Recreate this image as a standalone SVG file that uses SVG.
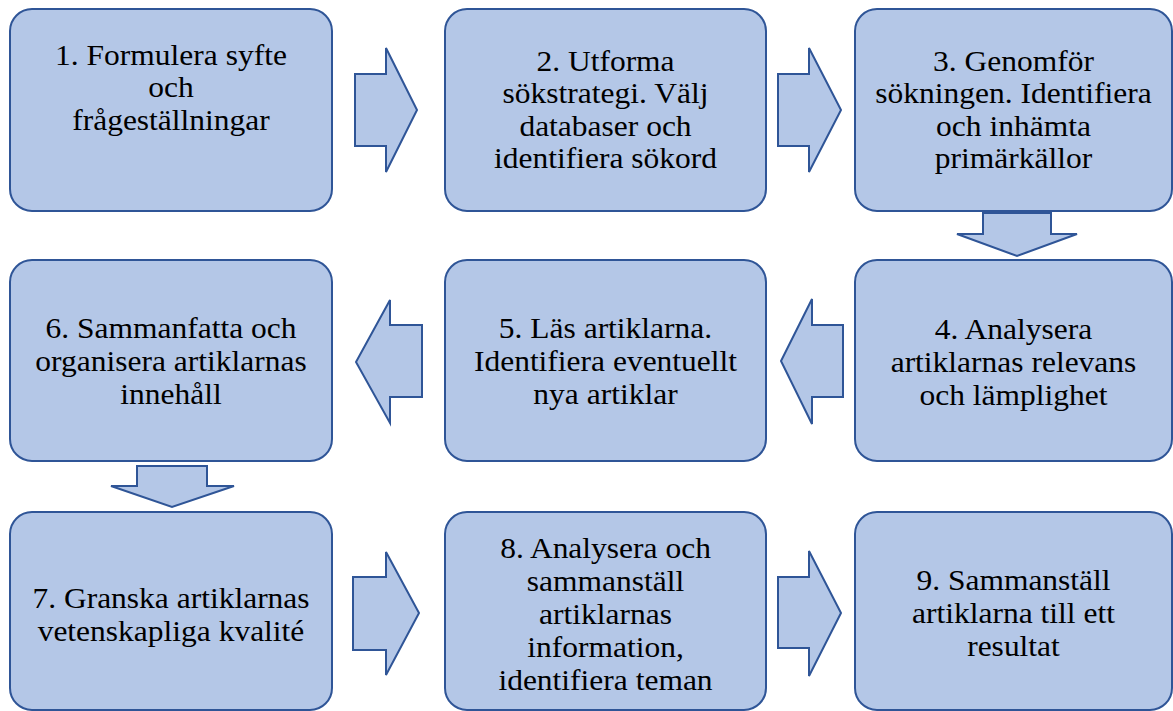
<svg xmlns="http://www.w3.org/2000/svg" width="1173" height="711" viewBox="0 0 1173 711">
<style>
.box{fill:#b4c7e7;stroke:#2f5597;stroke-width:2}
.arr{fill:#b4c7e7;stroke:#2f5597;stroke-width:2;stroke-linejoin:miter}
.t{font-family:'Liberation Serif','Times New Roman',serif;font-size:30px;fill:#000;text-anchor:middle}
</style>
<rect width="1173" height="711" fill="#fff"/>
<g id="connectors">
<polygon class="arr" points="355,74 386,74 386,48 417,110 386,172 386,146 355,146"/>
<polygon class="arr" points="778,74 809,74 809,48 841,110 809,172 809,146 778,146"/>
<polygon class="arr" points="983,213 1051,213 1051,234 1077,234 1017,256 957,234 983,234"/>
<polygon class="arr" points="843,325 812,325 812,299 781,361 812,424 812,397 843,397"/>
<polygon class="arr" points="422,325 390,325 390,300 356,362 390,423 390,397 422,397"/>
<polygon class="arr" points="137,466 207,466 207,486 234,486 172,507 111,486 137,486"/>
<polygon class="arr" points="353,577 386,577 386,552 419,613 386,675 386,650 353,650"/>
<polygon class="arr" points="778,577 809,577 809,551 841,613 809,676 809,648 778,648"/>
</g>
<g id="n1">
<rect class="box" x="10" y="9" width="322" height="202" rx="22"/>
<text class="t" transform="translate(171,65) scale(1.05,1)"><tspan x="0" y="0">1. Formulera syfte</tspan><tspan x="0" y="32.5">och</tspan><tspan x="0" y="65">frågeställningar</tspan></text>
</g>
<g id="n2">
<rect class="box" x="445" y="9" width="321" height="202" rx="22"/>
<text class="t" transform="translate(605.5,71) scale(1.05,1)"><tspan x="0" y="0">2. Utforma</tspan><tspan x="0" y="32.5">sökstrategi. Välj</tspan><tspan x="0" y="65">databaser och</tspan><tspan x="0" y="97.5">identifiera sökord</tspan></text>
</g>
<g id="n3">
<rect class="box" x="855" y="9" width="317" height="202" rx="22"/>
<text class="t" transform="translate(1013.5,71) scale(1.05,1)"><tspan x="0" y="0">3. Genomför</tspan><tspan x="0" y="32.5">sökningen. Identifiera</tspan><tspan x="0" y="65">och inhämta</tspan><tspan x="0" y="97.5">primärkällor</tspan></text>
</g>
<g id="n4">
<rect class="box" x="855" y="260" width="317" height="201" rx="22"/>
<text class="t" transform="translate(1013.5,339) scale(1.05,1)"><tspan x="0" y="0">4. Analysera</tspan><tspan x="0" y="33">artiklarnas relevans</tspan><tspan x="0" y="66">och lämplighet</tspan></text>
</g>
<g id="n5">
<rect class="box" x="445" y="260" width="321" height="201" rx="22"/>
<text class="t" transform="translate(605.5,338) scale(1.05,1)"><tspan x="0" y="0">5. Läs artiklarna.</tspan><tspan x="0" y="33">Identifiera eventuellt</tspan><tspan x="0" y="66">nya artiklar</tspan></text>
</g>
<g id="n6">
<rect class="box" x="10" y="260" width="322" height="201" rx="22"/>
<text class="t" transform="translate(171,338) scale(1.05,1)"><tspan x="0" y="0">6. Sammanfatta och</tspan><tspan x="0" y="33">organisera artiklarnas</tspan><tspan x="0" y="66">innehåll</tspan></text>
</g>
<g id="n7">
<rect class="box" x="10" y="512" width="322" height="198" rx="22"/>
<text class="t" transform="translate(171,608) scale(1.05,1)"><tspan x="0" y="0">7. Granska artiklarnas</tspan><tspan x="0" y="33">vetenskapliga kvalité</tspan></text>
</g>
<g id="n8">
<rect class="box" x="445" y="512" width="321" height="198" rx="22"/>
<text class="t" transform="translate(605.5,558) scale(1.05,1)"><tspan x="0" y="0">8. Analysera och</tspan><tspan x="0" y="33">sammanställ</tspan><tspan x="0" y="66">artiklarnas</tspan><tspan x="0" y="99">information,</tspan><tspan x="0" y="132">identifiera teman</tspan></text>
</g>
<g id="n9">
<rect class="box" x="855" y="512" width="317" height="198" rx="22"/>
<text class="t" transform="translate(1013.5,590) scale(1.05,1)"><tspan x="0" y="0">9. Sammanställ</tspan><tspan x="0" y="33">artiklarna till ett</tspan><tspan x="0" y="66">resultat</tspan></text>
</g>
</svg>
